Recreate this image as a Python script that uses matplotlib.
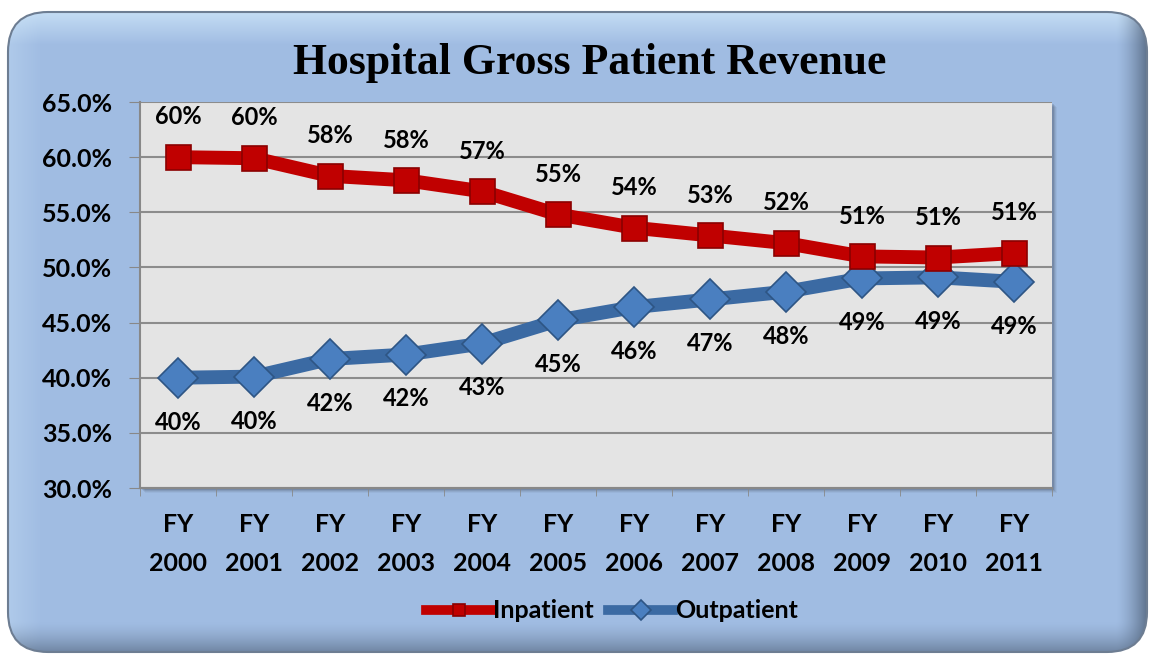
import numpy as np
import matplotlib
matplotlib.use('Agg')
import matplotlib.pyplot as plt
from matplotlib.patches import FancyBboxPatch, Rectangle
from matplotlib.ticker import FuncFormatter

# dados
anos = ['FY\n2000', 'FY\n2001', 'FY\n2002', 'FY\n2003', 'FY\n2004', 'FY\n2005',
        'FY\n2006', 'FY\n2007', 'FY\n2008', 'FY\n2009', 'FY\n2010', 'FY\n2011']
inpatient = [60.0, 59.9, 58.3, 57.9, 56.9, 54.8, 53.6, 52.9, 52.2, 51.0, 50.9, 51.3]
outpatient = [40.0, 40.1, 41.7, 42.1, 43.1, 45.2, 46.4, 47.1, 47.8, 49.0, 49.1, 48.7]

FONTE = 'Lato'
W, H = 1153, 658
fig = plt.figure(figsize=(W / 100, H / 100), dpi=100, facecolor='white')

# --- fundo azul com bordas em relevo ---
bg = fig.add_axes([0, 0, 1, 1])
bg.set_xlim(0, W)
bg.set_ylim(H, 0)
bg.axis('off')

x0, y0, x1, y1 = 8, 12, W - 6, H - 6
yy, xx = np.mgrid[y0:y1, x0:x1].astype(float)
base = np.array([0.63, 0.74, 0.89])
claro = np.array([0.86, 0.95, 1.0])
escuro = np.array([0.30, 0.37, 0.46])
img = np.ones(yy.shape + (3,)) * base


def misturar(img, peso, cor):
    peso = np.clip(peso, 0, 1)[..., None]
    return img * (1 - peso) + cor * peso


larg = 32.0
rampa = lambda v: np.clip(v, 0, 1)
img = misturar(img, rampa(1 - (yy - y0) / larg) * 0.6, claro)
img = misturar(img, rampa(1 - (xx - x0) / larg) * 0.25, claro)
img = misturar(img, rampa((yy - (y1 - larg)) / larg) ** 1.5 * 0.6, escuro)
img = misturar(img, rampa((xx - (x1 - larg)) / larg) ** 1.5 * 0.8, escuro)

caixa = FancyBboxPatch((x0, y0), x1 - x0, y1 - y0, boxstyle='round,pad=0,rounding_size=40',
                       facecolor='none', edgecolor='#6d7d92', linewidth=1.5, zorder=3)
bg.add_patch(caixa)
im = bg.imshow(img, extent=(x0, x1, y1, y0), aspect='auto', zorder=0, interpolation='bilinear')
im.set_clip_path(caixa)
bg.set_xlim(0, W)
bg.set_ylim(H, 0)

# sombra da área do gráfico
for i, a in enumerate([0.10, 0.08, 0.06, 0.04]):
    bg.add_patch(Rectangle((142 + i, 104 + i), 912, 386, facecolor='black',
                           edgecolor='none', alpha=a, zorder=1))

# --- área do gráfico ---
ax = fig.add_axes([140 / W, 1 - 488 / H, 912 / W, 386 / H])
ax.set_facecolor('#e4e4e4')
x = np.arange(len(anos))

ax.plot(x, inpatient, color='#c00000', lw=10, marker='s', markersize=18,
        markerfacecolor='#c00000', markeredgecolor='#8a0000', markeredgewidth=1.2,
        label='Inpatient', zorder=4)
ax.plot(x, outpatient, color='#3b6aa3', lw=10, marker='D', markersize=20,
        markerfacecolor='#4a7fc0', markeredgecolor='#2e5584', markeredgewidth=1.2,
        label='Outpatient', zorder=3)

for xi, v in zip(x, inpatient):
    ax.annotate(f'{v:.0f}%', (xi, v), xytext=(0, 29), textcoords='offset points',
                ha='center', va='center', fontsize=17, fontweight='bold', family=FONTE)
for xi, v in zip(x, outpatient):
    ax.annotate(f'{v:.0f}%', (xi, v), xytext=(0, -32), textcoords='offset points',
                ha='center', va='center', fontsize=17, fontweight='bold', family=FONTE)

ax.set_xlim(-0.5, len(anos) - 0.5)
ax.set_ylim(30, 65)
ax.set_yticks(np.arange(30, 66, 5))
ax.yaxis.set_major_formatter(FuncFormatter(lambda v, p: f'{v:.1f}%'))
ax.set_xticks(x)
ax.set_xticklabels(anos, linespacing=1.85)
ax.set_xticks(np.arange(-0.5, len(anos), 1), minor=True)
ax.tick_params(axis='x', which='major', length=0, pad=18)
ax.tick_params(axis='x', which='minor', length=6, color='#888888')
ax.tick_params(axis='y', length=8, color='#888888', pad=12)
for lab in ax.get_xticklabels() + ax.get_yticklabels():
    lab.set_fontsize(18)
    lab.set_fontweight('bold')
    lab.set_family(FONTE)

ax.grid(axis='y', color='#8c8c8c', lw=1.5)
ax.set_axisbelow(True)
for s in ['top', 'right']:
    ax.spines[s].set_visible(False)
for s in ['left', 'bottom']:
    ax.spines[s].set_color('#888888')
    ax.spines[s].set_linewidth(1.5)

fig.text(590 / W, 1 - 63 / H, 'Hospital Gross Patient Revenue', ha='center', va='center',
         fontsize=31.5, fontweight='bold', family='Liberation Serif')

leg = fig.legend(loc='center', bbox_to_anchor=(612 / W, 1 - 611 / H), ncol=2, frameon=False,
                 prop={'family': FONTE, 'weight': 'bold', 'size': 18},
                 handlelength=2.6, handletextpad=0.05, columnspacing=0.6, markerscale=0.5)
for h in leg.legend_handles:
    h.set_linewidth(7)

fig.savefig('out.png', dpi=100, facecolor='white')
